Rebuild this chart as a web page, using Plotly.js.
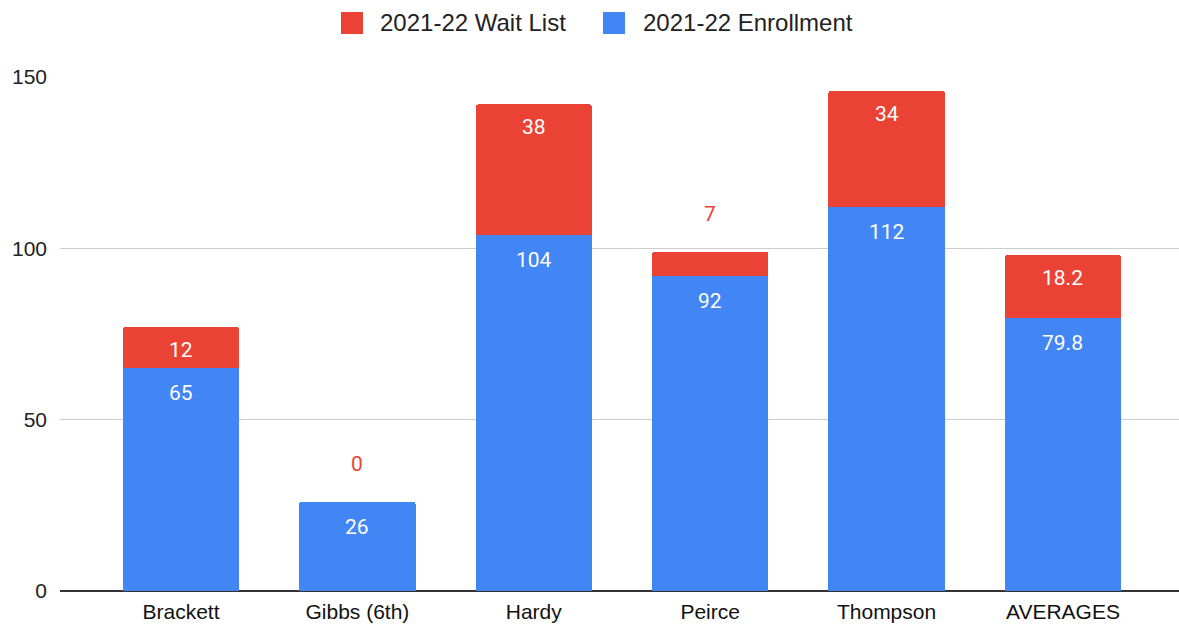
<!DOCTYPE html>
<html><head><meta charset="utf-8">
<script src="https://cdn.plot.ly/plotly-3.0.1.min.js"></script>
<style>html,body{margin:0;padding:0;background:#fff}#chart{width:1179px;height:628px}</style>
</head><body><div id="chart"></div>
<script>
const categories = ["Brackett", "Gibbs (6th)", "Hardy", "Peirce", "Thompson", "AVERAGES"];
const enrollment = [65, 26, 104, 92, 112, 79.8];
const waitList = [12, 0, 38, 7, 34, 18.2];
const yTicks = [0, 50, 100, 150];
const seriesNames = ["2021-22 Wait List", "2021-22 Enrollment"];

const RED = "#EA4335", BLUE = "#4285F4";
const labelFont = {family: "Roboto, Arial, sans-serif", size: 21};

// plot area in pixels (for placing the custom legend)
const M = {l: 60, r: 0, t: 77, b: 37}, W = 1179, H = 628;
const pw = W - M.l - M.r, ph = H - M.t - M.b;
const px = v => (v - M.l) / pw;
const py = v => (H - M.b - v) / ph;

const annotations = [];
categories.forEach((c, i) => {
  annotations.push({x: c, y: enrollment[i], yshift: -25, text: String(enrollment[i]),
    showarrow: false, font: Object.assign({}, labelFont, {color: "#ffffff"})});
  const small = waitList[i] < 10;
  annotations.push({x: c, y: enrollment[i] + waitList[i], yshift: small ? 38 : -23,
    text: String(waitList[i]), showarrow: false,
    font: Object.assign({}, labelFont, {color: small ? RED : "#ffffff"})});
});

// custom legend (large square swatches like the original)
const legendItems = [
  {name: seriesNames[0], color: RED, sx: 341, tx: 378},
  {name: seriesNames[1], color: BLUE, sx: 603, tx: 641}
];
const shapes = [];
legendItems.forEach(it => {
  shapes.push({type: "rect", xref: "paper", yref: "paper",
    x0: px(it.sx), x1: px(it.sx + 22), y0: py(34), y1: py(12),
    fillcolor: it.color, line: {width: 0}});
  annotations.push({xref: "paper", yref: "paper", x: px(it.tx), y: py(23),
    xanchor: "left", yanchor: "middle", showarrow: false, text: it.name,
    font: {family: "Arial, Liberation Sans, sans-serif", size: 24, color: "#222"}});
});

const data = [
  {type: "bar", name: seriesNames[1], x: categories, y: enrollment,
   marker: {color: BLUE}, width: 0.66, hoverinfo: "none"},
  {type: "bar", name: seriesNames[0], x: categories, y: waitList,
   marker: {color: RED}, width: 0.66, hoverinfo: "none"}
];

const layout = {
  width: W, height: H,
  margin: M,
  barmode: "stack",
  barcornerradius: 3,
  paper_bgcolor: "#fff", plot_bgcolor: "#fff",
  font: {family: "Arial, Liberation Sans, sans-serif", color: "#222", size: 21},
  showlegend: false,
  xaxis: {type: "category", range: [-0.686, 5.658], showgrid: false, ticks: "",
    tickfont: {size: 21, family: "Arial, Liberation Sans, sans-serif", color: "#111"},
    ticklabelstandoff: 6, showline: false, zeroline: false, fixedrange: true},
  yaxis: {range: [0, 150], tickvals: yTicks, ticktext: yTicks.map(String),
    showgrid: true, gridcolor: "#cccccc", gridwidth: 1,
    zeroline: true, zerolinecolor: "#333333", zerolinewidth: 2,
    tickfont: {size: 21, family: "Arial, Liberation Sans, sans-serif", color: "#222"},
    ticklabelstandoff: 12, fixedrange: true},
  shapes: shapes,
  annotations: annotations
};

Plotly.newPlot("chart", data, layout, {displayModeBar: false, staticPlot: true});
</script></body></html>
